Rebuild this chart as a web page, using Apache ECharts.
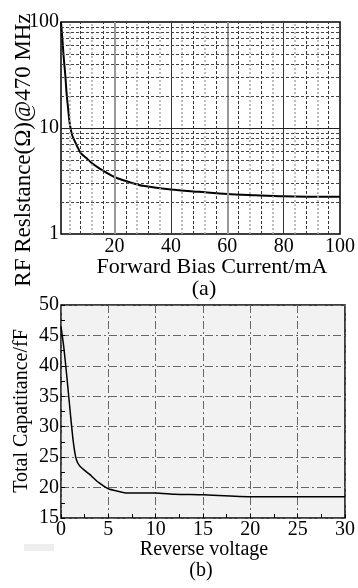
<!DOCTYPE html>
<html>
<head>
<meta charset="utf-8">
<script src="https://cdn.jsdelivr.net/npm/echarts@6/dist/echarts.min.js"></script>
<style>
html,body{margin:0;padding:0;background:#fff;}
#c{width:358px;height:588px;}
</style>
</head>
<body>
<div id="c"></div>
<script>
// ---- Data (a): RF resistance vs forward bias current ----
var currentA    = [1, 1.3, 1.6, 2, 2.5, 3, 3.5, 4, 4.5, 5, 6, 7, 8, 10, 12, 15, 20, 25, 30, 40, 50, 60, 70, 80, 90, 100];
var resistanceA = [100, 80, 63, 45, 32, 21, 15.5, 11.5, 9.6, 8.5, 7.4, 6.5, 5.8, 5.2, 4.65, 4.1, 3.45, 3.1, 2.85, 2.63, 2.5, 2.38, 2.32, 2.27, 2.25, 2.24];
var xTicksA = [20, 40, 60, 80, 100];
var yTicksA = [1, 10, 100];

// ---- Data (b): total capacitance vs reverse voltage ----
var voltageB     = [0, 0.3, 0.6, 1, 1.3, 1.6, 2, 3, 4, 5, 6, 7, 10, 12, 15, 20, 30];
var capacitanceB = [46.5, 43, 38.5, 32, 27.5, 24.7, 23.5, 22.2, 20.8, 19.8, 19.4, 19.1, 19.1, 18.9, 18.8, 18.5, 18.5];
var xTicksB = [0, 5, 10, 15, 20, 25, 30];
var yTicksB = [15, 20, 25, 30, 35, 40, 45, 50];

function pairs(xs, ys){ return xs.map(function(x,i){ return [x, ys[i]]; }); }

var FONT = '"Liberation Serif", "Times New Roman", serif';

// grid line definitions for (a)
var vLines = [];
for (var v = 4; v < 100; v += 4) {
  var isMajor = (v % 20 === 0);
  var dark = (v % 8 === 0);
  var ls;
  if (isMajor) {
    ls = dark ? {color:'#333', width:1, type:'solid'} : {color:'#999', width:2, type:'solid'};
  } else {
    ls = dark ? {color:'#333', width:1, type:[3,2]} : {color:'#aaa', width:1.5, type:[2,2]};
  }
  vLines.push({xAxis: v, lineStyle: ls});
}
var hLines = [];
[2,3,4,5,6,7,8,9,20,30,40,50,60,70,80,90].forEach(function(h){
  hLines.push({yAxis: h, lineStyle: {color:'#444', width:1, type:[3,2]}});
});
hLines.push({yAxis: 10, lineStyle: {color:'#222', width:1, type:'solid'}});

var chart = echarts.init(document.getElementById('c'), null, {renderer:'canvas'});
chart.setOption({
  animation: false,
  backgroundColor: '#fff',
  grid: [
    {left: 61, top: 22, width: 285, height: 212, show: true, borderColor: '#000', borderWidth: 1.5, backgroundColor: '#fff'},
    {left: 61, top: 305, width: 288, height: 213, show: true, borderColor: '#000', borderWidth: 1.5, backgroundColor: '#f2f2f2'}
  ],
  xAxis: [
    {
      gridIndex: 0, type: 'value', min: 1, max: 100,
      axisLine: {show: false}, axisTick: {show: false}, splitLine: {show: false},
      axisLabel: {customValues: xTicksA, color: '#000', fontFamily: FONT, fontSize: 20, margin: 3}
    },
    {
      gridIndex: 1, type: 'value', min: xTicksB[0], max: xTicksB[xTicksB.length-1], interval: 5,
      axisLine: {show: false},
      axisTick: {show: true, inside: true, length: 4, lineStyle: {color:'#000'}},
      minorTick: {show: true, splitNumber: 2, length: 4, lineStyle: {color:'#000'}},
      splitLine: {show: true, lineStyle: {color: '#666', width: 1, type: [8,3,2,3]}},
      axisLabel: {color: '#000', fontFamily: FONT, fontSize: 20, margin: 2}
    }
  ],
  yAxis: [
    {
      gridIndex: 0, type: 'log', logBase: 10, min: yTicksA[0], max: yTicksA[yTicksA.length-1],
      axisLine: {show: false}, axisTick: {show: false}, splitLine: {show: false},
      axisLabel: {color: '#000', fontFamily: FONT, fontSize: 20, margin: 2}
    },
    {
      gridIndex: 1, type: 'value', min: yTicksB[0], max: yTicksB[yTicksB.length-1], interval: 5,
      axisLine: {show: false},
      axisTick: {show: true, inside: true, length: 4, lineStyle: {color:'#000'}},
      minorTick: {show: true, splitNumber: 2, length: 4, lineStyle: {color:'#000'}},
      splitLine: {show: true, lineStyle: {color: '#666', width: 1, type: [8,3,2,3]}},
      axisLabel: {color: '#000', fontFamily: FONT, fontSize: 20, margin: 2}
    }
  ],
  series: [
    {
      type: 'line', xAxisIndex: 0, yAxisIndex: 0, z: 1, silent: true,
      data: pairs(currentA, resistanceA), symbol: 'none',
      lineStyle: {opacity: 0},
      markLine: {silent: true, symbol: 'none', label: {show: false}, animation: false,
        data: vLines.concat(hLines)}
    },
    {
      type: 'line', xAxisIndex: 0, yAxisIndex: 0, z: 3,
      data: pairs(currentA, resistanceA), symbol: 'none', smooth: 0.3,
      lineStyle: {color: '#000', width: 2}
    },
    {
      type: 'line', xAxisIndex: 1, yAxisIndex: 1, z: 3,
      data: pairs(voltageB, capacitanceB), symbol: 'none', smooth: 0.2,
      lineStyle: {color: '#000', width: 1.5}
    }
  ],
  graphic: [
    {type:'text', x: 24, y: 150, rotation: Math.PI/2, style: {text: 'RF Reslstance(Ω)@470 MHz', font: '23px ' + FONT, fill: '#000', textAlign: 'center', textVerticalAlign: 'middle'}},
    {type:'text', x: 212, y: 267, style: {text: 'Forward Bias Current/mA', font: '22px ' + FONT, fill: '#000', textAlign: 'center', textVerticalAlign: 'middle'}},
    {type:'text', x: 204, y: 289, style: {text: '(a)', font: '22px ' + FONT, fill: '#000', textAlign: 'center', textVerticalAlign: 'middle'}},
    {type:'text', x: 22, y: 411, rotation: Math.PI/2, style: {text: 'Total Capatitance/fF', font: '20px ' + FONT, fill: '#000', textAlign: 'center', textVerticalAlign: 'middle'}},
    {type:'text', x: 204, y: 550, style: {text: 'Reverse voltage', font: '20px ' + FONT, fill: '#000', textAlign: 'center', textVerticalAlign: 'middle'}},
    {type:'text', x: 201, y: 571, style: {text: '(b)', font: '20px ' + FONT, fill: '#000', textAlign: 'center', textVerticalAlign: 'middle'}},
    {type:'rect', shape: {x: 24, y: 544, width: 30, height: 7}, style: {fill: '#eeeeee'}}
  ]
});
</script>
</body>
</html>
